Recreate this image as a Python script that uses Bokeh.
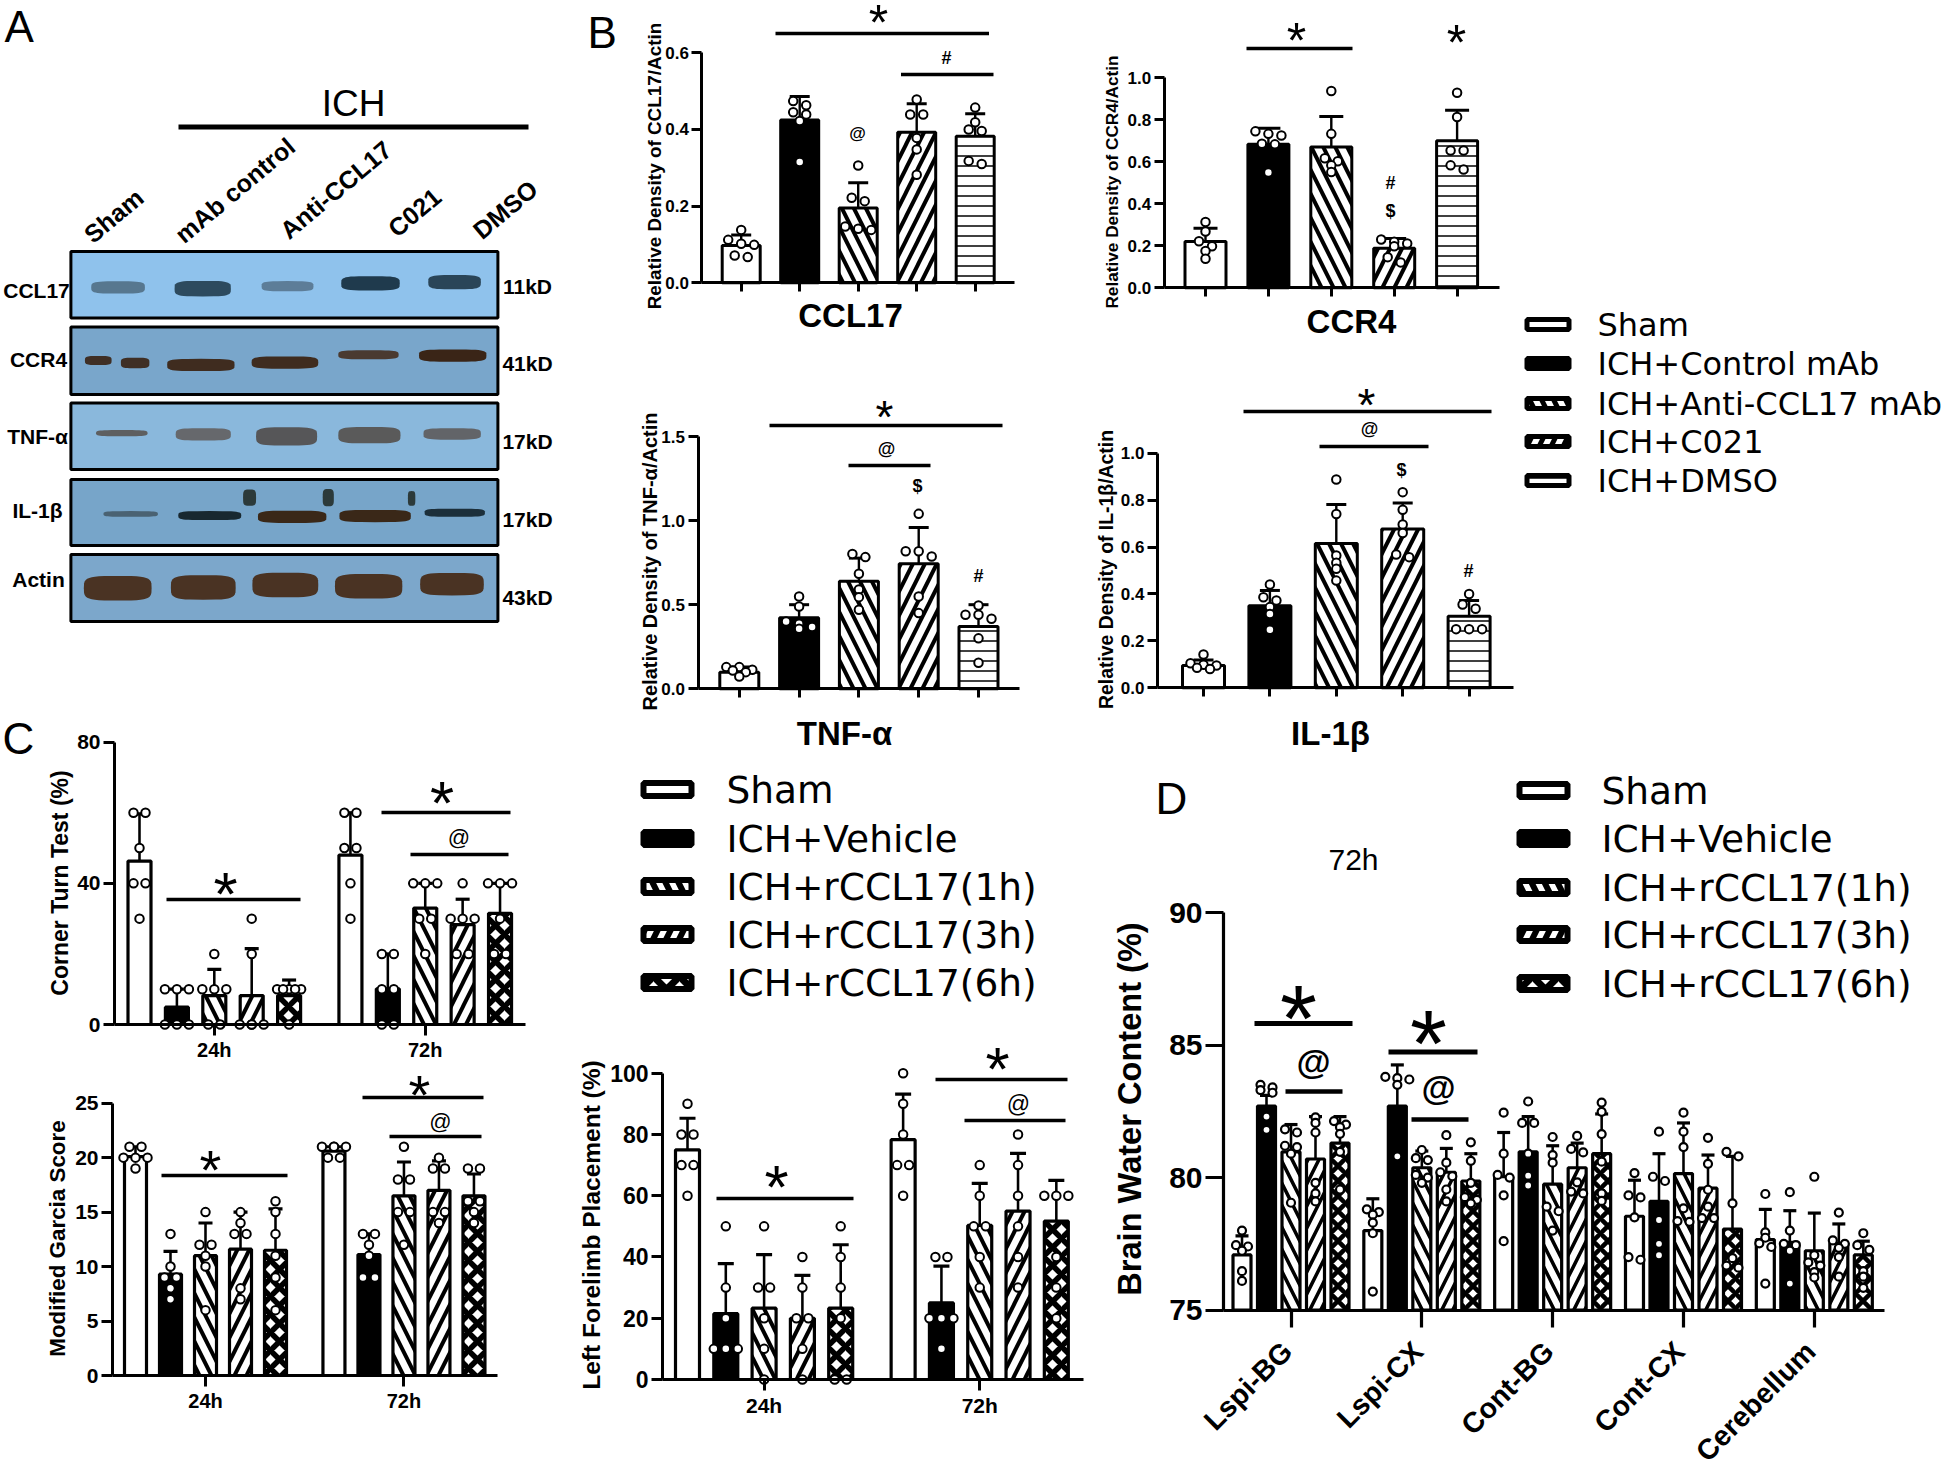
from bokeh.plotting import figure
from bokeh.models import Range1d, FixedTicker, Label, NumeralTickFormatter
from bokeh.layouts import column, row
from bokeh.embed import file_html
from bokeh.resources import INLINE
import math

FONT = "Liberation Sans"

# ---------------- DATA ----------------
groups_b = ["Sham", "ICH+Control mAb", "ICH+Anti-CCL17 mAb", "ICH+C021", "ICH+DMSO"]
groups_c = ["Sham", "ICH+Vehicle", "ICH+rCCL17(1h)", "ICH+rCCL17(3h)", "ICH+rCCL17(6h)"]

ccl17_mean = [0.097, 0.425, 0.195, 0.393, 0.382]
ccl17_err = [0.125, 0.486, 0.261, 0.467, 0.441]
ccl17_pts = [[.138, .112, .099, .102, .071, .067], [.474, .463, .445, .439, .422, .315],
             [.306, .222, .213, .147, .141, .138], [.478, .439, .439, .378, .348, .282],
             [.457, .419, .400, .396, .318, .310]]

ccr4_mean = [0.22, 0.683, 0.67, 0.188, 0.70]
ccr4_err = [0.283, 0.76, 0.816, 0.235, 0.845]
ccr4_pts = [[.313, .268, .222, .198, .175, .138], [.745, .733, .725, .686, .683, .549],
            [.937, .733, .617, .603, .583, .551], [.23, .219, .211, .198, .146, .121],
            [.929, .813, .654, .654, .583, .563]]

tnf_mean = [0.099, 0.422, 0.64, 0.743, 0.37]
tnf_err = [0.13, 0.50, 0.777, 0.959, 0.50]
tnf_pts = [[.129, .129, .113, .109, .099, .073], [.549, .489, .40, .386, .367, .357],
           [.802, .783, .684, .59, .545, .47], [1.04, .818, .818, .787, .549, .45],
           [.495, .44, .44, .416, .30, .155]]

il1b_mean = [0.095, 0.35, 0.615, 0.677, 0.305]
il1b_err = [0.119, 0.415, 0.781, 0.788, 0.372]
il1b_pts = [[.142, .105, .098, .095, .085, .08], [.44, .386, .372, .344, .315, .247],
            [.888, .741, .564, .533, .507, .457], [.834, .759, .696, .66, .568, .557],
            [.40, .355, .337, .25, .25, .25]]

corner_mean = [46.3, 4.9, 8.2, 8.2, 8.2, 48, 10.1, 33, 28.3, 31.5]
corner_err = [59.7, 10, 15.6, 21.5, 12.6, 60, 20, 40, 35.5, 40]
corner_pts = [[60, 60, 50, 40, 40, 30], [10, 10, 10, 0, 0, 0], [20, 10, 10, 10, 0, 0],
              [30, 20, 0, 0, 0, 0], [10, 10, 10, 10, 10, 0],
              [60, 60, 50, 50, 40, 30], [20, 20, 10, 10, 0, 0], [40, 40, 40, 30, 30, 20],
              [40, 30, 30, 30, 20, 20], [40, 40, 40, 30, 20, 20]]

garcia_mean = [20.1, 9.3, 11, 11.6, 11.5, 20.6, 11.1, 16.5, 17, 16.5]
garcia_err = [21, 11.4, 14, 15, 15.3, 21, 13, 19.6, 19.7, 18.5]
garcia_pts = [[21, 21, 20, 20, 20, 19], [13, 10, 9, 9, 8, 7], [15, 12, 12, 11, 10, 6],
              [15, 14, 13, 13, 8, 7], [16, 15, 13, 11, 9, 6],
              [21, 21, 21, 21, 20, 20], [13, 13, 12, 11, 9, 9], [21, 18, 18, 15, 15, 12],
              [20, 19, 19, 15, 15, 14], [19, 19, 16, 16, 15, 14]]

forelimb_mean = [75, 21.5, 23.3, 20, 23.3, 78.3, 25, 50.3, 55, 51.7]
forelimb_err = [85.3, 37.8, 40.8, 34, 44, 93.2, 37, 64, 73.8, 65]
forelimb_pts = [[90, 80, 80, 70, 70, 60], [50, 30, 20, 10, 10, 10], [50, 30, 30, 20, 10, 0],
                [40, 30, 20, 20, 10, 0], [50, 40, 30, 20, 0, 0],
                [100, 90, 80, 70, 70, 60], [40, 40, 20, 20, 20, 10], [70, 60, 50, 50, 40, 30],
                [80, 70, 60, 50, 40, 30], [60, 60, 60, 40, 30, 20]]

water_regions = ["Lspi-BG", "Lspi-CX", "Cont-BG", "Cont-CX", "Cerebellum"]
water_mean = [77.08, 82.7, 80.97, 80.7, 81.3, 78.0, 82.7, 80.37, 80.2, 79.87,
              80.03, 80.97, 79.75, 80.37, 80.9, 78.54, 79.1, 80.15, 79.6, 78.06,
              77.66, 77.56, 77.24, 77.52, 77.08]
water_err = [77.8, 83.1, 82, 82.3, 82.3, 79.2, 84.25, 81, 81.1, 80.9,
             81.7, 82.3, 81.2, 81.3, 82.4, 79.9, 80.9, 82.06, 80.85, 80.8,
             78.8, 78.75, 78.66, 78.25, 77.6]
water_pts = [[78, 77.45, 77.4, 77.24, 76.47, 76.1], [83.5, 83.4, 83.3, 83.2, 82.3, 81.8],
             [81.82, 81.7, 81.2, 81.15, 80.9, 79.05], [82.27, 82.06, 81.7, 79.8, 79.4, 79.1],
             [82.13, 82, 81.9, 81.65, 80.97, 79.55],
             [78.8, 78.7, 78.6, 78.3, 77.9, 75.7], [83.8, 83.75, 83.7, 83.5, 80.8],
             [81.04, 80.73, 80.66, 80.1, 80, 79.8], [81.6, 80.56, 80.2, 80.05, 79.55, 79.1],
             [81.33, 80.63, 79.8, 79.26, 79.16, 79.03],
             [82.45, 80.9, 80.1, 80, 79.33, 77.6], [82.87, 82.06, 82.06, 80.9, 80.07, 79.7],
             [81.53, 80.85, 80.56, 78.9, 78.73, 78], [81.57, 81.08, 80.95, 79.82, 79.47, 79.4],
             [82.83, 82.48, 81.64, 80.6, 79.4, 79.12],
             [80.17, 79.33, 79.25, 78.5, 77, 76.9], [81.73, 80.03, 79.87, 78.4, 77.5, 77.07],
             [82.45, 81.73, 81.15, 78.84, 78.36, 78.33], [81.5, 80.52, 79.54, 78.9, 78.47, 78.47],
             [80.97, 80.8, 79.03, 76.96, 76.68, 76.6],
             [79.38, 77.93, 77.73, 77.52, 77.38, 76], [79.45, 78, 77.5, 77.45, 77.24, 76],
             [80.03, 77.07, 76.8, 76.68, 76.43, 76.23], [78.68, 77.63, 77.5, 77.35, 77, 76.26],
             [77.9, 77.45, 77.27, 76.47, 76.26, 75.84]]

blot_names = ["CCL17", "CCR4", "TNF-\u03b1", "IL-1\u03b2", "Actin"]
blot_sizes = ["11kD", "41kD", "17kD", "17kD", "43kD"]
blot_lanes = ["Sham", "mAb control", "Anti-CCL17", "C021", "DMSO"]

# ---------------- STYLES ----------------
STY = [dict(fill_color="white"),
       dict(fill_color="black"),
       dict(fill_color="white", hatch_pattern="left_diagonal_line", hatch_color="black"),
       dict(fill_color="white", hatch_pattern="right_diagonal_line", hatch_color="black"),
       dict(fill_color="white", hatch_pattern="horizontal_line", hatch_color="black"),
       dict(fill_color="white", hatch_pattern="diagonal_cross", hatch_color="black")]
SERIES_B = [0, 1, 2, 3, 4]
SERIES_C = [0, 1, 2, 3, 5]


class Pane:
    """A figure tiled into the page; positions given in page pixels are turned into data values."""

    def __init__(self, x0, y0, x1, y1, axis_x=None, cx0=0.0, step=1.0, zero=0.0, k=-1.0, ymin=0.0, axes=True):
        self.cx0, self.step, self.zero, self.k, self.ymin = cx0, step, zero, k, ymin
        self.axis_x = x0 if axis_x is None else axis_x
        opts = dict(x_axis_type="linear", y_axis_type="linear") if axes else dict(x_axis_type=None, y_axis_type=None)
        self.p = figure(width=x1 - x0, height=y1 - y0,
                        x_range=Range1d(self.X(x0), self.X(x1)),
                        y_range=Range1d(self.Y(y1), self.Y(y0)),
                        min_border_left=0, min_border_right=0, min_border_top=0, min_border_bottom=0,
                        frame_align=False,
                        output_backend="svg", toolbar_location=None, outline_line_color=None,
                        background_fill_color=None, border_fill_color=None, **opts)
        self.p.grid.visible = False

    def X(self, px):
        return (px - self.cx0) / self.step

    def Y(self, py):
        return self.ymin + (self.zero - py) / self.k

    def text(self, x, y, t, size, bold=False, align="center", base="middle", angle=0, color="black", font=FONT):
        self.p.add_layout(Label(x=self.X(x), y=self.Y(y), text=t, text_font=font,
                                text_font_size=f"{size}px", text_font_style="bold" if bold else "normal",
                                text_align=align, text_baseline=base, angle=angle, angle_units="deg",
                                text_color=color))

    def star(self, x, y, size):
        self.text(x, y + 0.21 * size, "*", size)

    def hline(self, x1, x2, y, lw=3.5):
        self.p.segment(x0=[self.X(x1)], x1=[self.X(x2)], y0=[self.Y(y)], y1=[self.Y(y)],
                       line_color="black", line_width=lw, line_cap="butt")


def swarm(vals, ppu, spacing, thresh, maxrow=3):
    rows = []
    for v in sorted(vals, reverse=True):
        if rows and (rows[-1][0] - v) * ppu < thresh and len(rows[-1]) < maxrow:
            rows[-1].append(v)
        else:
            rows.append([v])
    xs, ys = [], []
    for r in rows:
        for i, v in enumerate(r):
            xs.append((i - (len(r) - 1) / 2) * spacing)
            ys.append(v)
    return xs, ys


def chart(P, xs, means, errs, pts, series, width, lw=3, cap=20, msize=8.5, mlw=2, spacing=13, thresh=7,
          hs=24, hw=4, hh=10, hhw=1.5, hc=18, hcw=5.5):
    p = P.p
    ppu = abs(P.k)
    for i, x in enumerate(xs):
        st = dict(STY[series[i % len(series)]])
        pat = st.get("hatch_pattern")
        if pat == "horizontal_line":
            st.update(hatch_scale=hh, hatch_weight=hhw)
        elif pat == "diagonal_cross":
            st.update(hatch_scale=hc, hatch_weight=hcw)
        elif pat:
            st.update(hatch_scale=hs, hatch_weight=hw)
        p.vbar(x=[x], top=[means[i]], bottom=P.ymin, width=width / P.step, line_color="black", line_width=lw, **st)
        p.segment(x0=[x], x1=[x], y0=[means[i]], y1=[errs[i]], line_color="black", line_width=lw * 0.8)
        p.segment(x0=[x - cap / 2 / P.step], x1=[x + cap / 2 / P.step], y0=[errs[i]], y1=[errs[i]],
                  line_color="black", line_width=lw)
        dx, ys = swarm(pts[i], ppu, spacing, thresh)
        p.scatter(x=[x + d / P.step for d in dx], y=ys, size=msize, marker="circle",
                  fill_color="white", line_color="black", line_width=mlw)


def style_axes(P, yticks, ymax, ylabel, lab_xy, lab_size, tick_size, xticks, xlabels, xend, xtick_size=0,
               tick_out=9, xtick_out=9, lw=3, x_standoff=3, tick_standoff=3, yfmt="0"):
    p = P.p
    y = p.yaxis[0]
    x = p.xaxis[0]
    y.fixed_location = P.X(P.axis_x)
    y.ticker = FixedTicker(ticks=yticks)
    y.formatter = NumeralTickFormatter(format=yfmt)
    y.bounds = (P.ymin, ymax)
    y.major_label_text_font = FONT
    y.major_label_text_font_style = "bold"
    y.major_label_text_font_size = f"{tick_size}px"
    y.major_label_text_color = "black"
    y.major_label_standoff = tick_standoff
    y.major_tick_in = 0
    y.major_tick_out = tick_out
    y.minor_tick_line_color = None
    y.axis_line_width = lw
    y.major_tick_line_width = lw
    y.axis_line_color = "black"
    x.fixed_location = P.ymin
    x.ticker = FixedTicker(ticks=xticks)
    x.bounds = (P.X(P.axis_x), P.X(xend))
    x.major_label_overrides = {t: l for t, l in zip(xticks, xlabels)}
    x.major_label_text_font = FONT
    x.major_label_text_font_style = "bold"
    x.major_label_text_font_size = f"{max(xtick_size, 1)}px"
    x.major_label_text_color = "black"
    x.major_label_standoff = x_standoff
    x.major_tick_in = 0
    x.major_tick_out = xtick_out
    x.minor_tick_line_color = None
    x.axis_line_width = lw
    x.major_tick_line_width = lw
    x.axis_line_color = "black"
    P.text(lab_xy[0], lab_xy[1], ylabel, lab_size, bold=True, angle=90)


def ratio_panel(x0, y0, x1, y1, axis_x, c0, step, zero, top, ymax, yticks, means, errs, pts, width, ylabel, lab_xy,
                lab_size, xend, title, title_xy, cap):
    k = (zero - top) / ymax
    P = Pane(x0, y0, x1, y1, axis_x, c0, step, zero, k)
    xs = list(range(5))
    chart(P, xs, means, errs, pts, SERIES_B, width, lw=3, cap=cap, spacing=13, thresh=6)
    style_axes(P, yticks, ymax, ylabel, lab_xy, lab_size, 17, xs, [" "] * 5, xend, tick_out=10, yfmt="0.0")
    P.text(title_xy[0], title_xy[1], title, 33, bold=True)
    return P


def band(P, x1, x2, yc, h, color, power=4):
    n = 40
    cx, rx, ry = (x1 + x2) / 2, (x2 - x1) / 2, h / 2
    xs, ys = [], []
    for i in range(n):
        t = 2 * math.pi * i / n
        c, s = math.cos(t), math.sin(t)
        xs.append(cx + rx * abs(c) ** (2 / power) * (1 if c >= 0 else -1))
        ys.append(yc + ry * abs(s) ** (2 / power) * (1 if s >= 0 else -1))
    P.p.patch(x=xs, y=ys, fill_color=color, line_color=None)


def legend_items(P, names, series, sx0, sx1, ys, h, tx, size, hs, hw, bw=5):
    for name, s, y in zip(names, series, ys):
        st = dict(STY[s])
        pat = st.get("hatch_pattern")
        if pat == "horizontal_line":
            st.update(hatch_scale=6, hatch_weight=1.5)
        elif pat == "diagonal_cross":
            st.update(hatch_scale=hs, hatch_weight=hw + 1)
        elif pat:
            st.update(hatch_scale=hs, hatch_weight=hw)
        P.p.quad(left=[P.X(sx0 + bw / 2)], right=[P.X(sx1 - bw / 2)],
                 top=[P.Y(y - h / 2 + bw / 2)], bottom=[P.Y(y + h / 2 - bw / 2)],
                 line_color="black", line_width=bw, **st)
        P.text(tx, y, name, size, font="DejaVu Sans", align="left")


# ---------------- PANEL A ----------------
A = Pane(0, 0, 575, 718, axes=False)
A.text(4, 26, "A", 44, align="left")
A.text(353, 103, "ICH", 37)
A.hline(178, 528, 126.5, lw=5)
lane_xy = [(87, 237), (178, 237), (283, 233), (391, 231), (476, 233)]
for (lx, ly), t in zip(lane_xy, blot_lanes):
    A.text(lx, ly, t, 25, bold=True, align="left", base="alphabetic", angle=40)
tops = [251, 326.5, 402.5, 479, 554]
bots = [317.6, 394, 469, 545, 621]
bgs = ["#8fc2ec", "#79a6cb", "#8ab8dc", "#77a5c9", "#7ca7cb"]
A.p.quad(left=70.4, right=497.4, top=tops, bottom=bots, fill_color=bgs, line_color="black", line_width=3)
F = 2.7
G = 2.45
bands = [
    (245, 390, 703, 30, "#57778f"), (470, 622, 706, 38, "#2d4a5e"), (705, 845, 700, 25, "#5d7d98"),
    (920, 1078, 693, 35, "#1f3a4d"), (1155, 1297, 690, 35, "#2a4558"),
    (228, 300, 882, 22, "#3f2f25"), (325, 402, 888, 26, "#3f2f25"), (450, 632, 893, 30, "#3f2c1f"),
    (678, 858, 887, 30, "#3f2c1f"), (912, 1075, 868, 22, "#4a3a30"), (1130, 1312, 870, 30, "#3a2517"),
    (258, 397, 1060, 15, "#5e5f60"), (473, 622, 1063, 30, "#66686c"), (690, 855, 1068, 45, "#565658"),
    (912, 1080, 1065, 40, "#5a5a5a"), (1142, 1297, 1062, 28, "#626468"),
    (278, 425, 1258, 14, "#4a6272"), (480, 650, 1262, 22, "#182830"), (695, 880, 1265, 30, "#3a2818"),
    (915, 1108, 1263, 30, "#3a2818"), (1145, 1308, 1255, 20, "#1c2f3a"),
    (655, 690, 1218, 40, "#2c3a3a"), (870, 900, 1218, 42, "#2c3a3a"), (1100, 1120, 1220, 36, "#2c3a3a"),
    (225, 408, 1440, 60, "#4a3323"), (460, 635, 1438, 60, "#4a3323"), (680, 858, 1432, 60, "#4a3323"),
    (903, 1085, 1435, 60, "#4a3323"), (1133, 1305, 1430, 55, "#4a3323"),
]
for b in bands:
    band(A, b[0] / F, b[1] / F, b[2] / G, b[3] / G, b[4])
for name, y, xx in zip(blot_names, [290, 359, 436, 510, 579], [36, 38, 37, 37, 38]):
    A.text(xx, y, name, 21, bold=True)
for s, y in zip(blot_sizes, [286, 363, 441, 519, 597]):
    A.text(527, y, s, 21, bold=True)

# ---------------- PANEL B ----------------
CCL = ratio_panel(575, 0, 1075, 385, 701.4, 740.7, 58.5, 282.3, 52.3, 0.6, [0, .2, .4, .6],
                  ccl17_mean, ccl17_err, ccl17_pts, 38, "Relative Density of CCL17/Actin", (653.6, 165.5), 18.9, 1014,
                  "CCL17", (850, 315), 20)
CCL.text(587, 32, "B", 44, align="left")
CCL.hline(775, 988.5, 33)
CCL.star(878, 12, 50)
CCL.hline(900.5, 993, 74)
CCL.text(946, 57, "#", 18, bold=True)
CCL.text(857, 133, "@", 17, bold=True)

CCR = ratio_panel(1075, 0, 1515, 385, 1163.7, 1205, 62.9, 287.3, 77.3, 1.0, [0, .2, .4, .6, .8, 1.0],
                  ccr4_mean, ccr4_err, ccr4_pts, 41, "Relative Density of CCR4/Actin", (1111, 181.5), 17.2, 1499,
                  "CCR4", (1351, 321), 24)
CCR.hline(1246, 1352, 48)
CCR.star(1296, 30, 50)
CCR.star(1456, 32, 50)
CCR.text(1390, 182, "#", 18, bold=True)
CCR.text(1390, 210, "$", 18, bold=True)

TNF = ratio_panel(575, 385, 1075, 768, 697.5, 738.8, 59.8, 688.3, 436, 1.5, [0, .5, 1.0, 1.5],
                  tnf_mean, tnf_err, tnf_pts, 39, "Relative Density of TNF-\u03b1/Actin", (649, 561), 20, 1019,
                  "TNF-\u03b1", (844, 733), 20)
TNF.hline(769, 1002, 425)
TNF.star(884, 407, 46)
TNF.hline(848, 930, 465)
TNF.text(886, 448, "@", 18, bold=True)
TNF.text(917, 485, "$", 18, bold=True)
TNF.text(978, 575, "#", 18, bold=True)

IL = ratio_panel(1075, 385, 1515, 768, 1157, 1203, 66.4, 687.3, 452.7, 1.0, [0, .2, .4, .6, .8, 1.0],
                 il1b_mean, il1b_err, il1b_pts, 42, "Relative Density of IL-1\u03b2/Actin", (1105, 569), 19.4, 1512.6,
                 "IL-1\u03b2", (1330, 733), 20)
IL.hline(1243, 1491, 411)
IL.star(1366, 395, 46)
IL.hline(1319, 1428, 446)
IL.text(1369, 428, "@", 18, bold=True)
IL.text(1401, 469, "$", 18, bold=True)
IL.text(1468, 570, "#", 18, bold=True)

LEG1 = Pane(1515, 0, 1946, 768, axes=False)
legend_items(LEG1, groups_b, SERIES_B, 1524, 1571, [324, 363, 403, 441, 480], 15, 1597, 32, 24, 5)


# ---------------- PANEL C ----------------
def behaviour_panel(x0, y0, x1, y1, axis_x, c0, step, gap, zero, top, ymax, yticks, means, errs, pts, width, ylabel,
                    lab_xy, lab_size, tick_size, xend, xlab_size, cap, tick_out=11, xtick_out=11):
    P = Pane(x0, y0, x1, y1, axis_x, c0, step, zero, (zero - top) / ymax)
    xs = [i for i in range(5)] + [gap + i for i in range(5)]
    chart(P, xs, means, errs, pts, SERIES_C, width, lw=3.2, cap=cap, spacing=12, thresh=5)
    style_axes(P, yticks, ymax, ylabel, lab_xy, lab_size, tick_size, [2, gap + 2], ["24h", "72h"], xend,
               xtick_size=xlab_size, tick_out=tick_out, xtick_out=xtick_out, x_standoff=3)
    return P


C1 = behaviour_panel(0, 718, 575, 1062, 114, 139, 37.4, 5.64, 1024, 741.7, 80, [0, 40, 80], corner_mean, corner_err,
                     corner_pts, 23, "Corner Turn Test (%)", (59, 882.5), 23, 21, 525, 20, 14)
C1.text(2, 738, "C", 44, align="left")
C1.hline(166, 300, 899)
C1.star(225, 880, 62)
C1.hline(381, 510, 812)
C1.star(441.5, 789, 62)
C1.hline(410, 508, 854)
C1.text(458.5, 837, "@", 22)

C2 = behaviour_panel(0, 1062, 575, 1466, 112, 135, 35, 5.67, 1375, 1102.7, 25, [0, 5, 10, 15, 20, 25], garcia_mean,
                     garcia_err, garcia_pts, 22, "Modified Garcia Score", (57, 1238), 22.4, 21, 497, 20, 14)
C2.hline(161, 287, 1175)
C2.star(210, 1157, 56)
C2.hline(362, 483, 1097)
C2.star(419, 1082, 56)
C2.hline(389, 481, 1136)
C2.text(440, 1121, "@", 22)

LEG2 = Pane(575, 768, 1090, 1040, axes=False)
legend_items(LEG2, groups_c, SERIES_C, 640, 694, [789, 838, 886, 934, 982], 19, 726, 37.5, 26, 6, bw=6)

C3 = behaviour_panel(575, 1040, 1090, 1466, 662, 687, 38.3, 5.63, 1379, 1072.7, 100, [0, 20, 40, 60, 80, 100],
                     forelimb_mean, forelimb_err, forelimb_pts, 24, "Left Forelimb Placement (%)", (591, 1224.5), 24.5,
                     23, 1083, 21, 16)
C3.hline(716, 853, 1198)
C3.star(776, 1173, 62)
C3.hline(935, 1067, 1079)
C3.star(997, 1055, 62)
C3.hline(964, 1065, 1120)
C3.text(1018, 1103, "@", 23)

# ---------------- PANEL D ----------------
kD = (1309.6 - 912) / 15
D = Pane(1090, 768, 1946, 1466, 1223, 1241.5, 24.5, 1309.6, kD, 75)
xsD = [g * 5.34 + i for g in range(5) for i in range(5)]
chart(D, xsD, water_mean, water_err, water_pts, SERIES_C, 18, lw=3.2, cap=13, msize=8, mlw=2.2, spacing=12, thresh=5,
      hs=22, hw=3.5, hc=15, hcw=4.5)
tick_pos = [g * 5.34 + 2 for g in range(5)]
style_axes(D, [75, 80, 85, 90], 90, "Brain Water Content (%)", (1129, 1108.5), 32.6, 30, tick_pos, [" "] * 5, 1884,
           tick_out=18, xtick_out=17, lw=3.2)
for t, name in zip(tick_pos, water_regions):
    D.text(1241.5 + t * 24.5 - 4, 1346, name, 28.5, bold=True, align="right", angle=45)
D.text(1155, 798, "D", 44, align="left")
D.text(1353, 859, "72h", 30)
legend_items(D, groups_c, SERIES_C, 1516, 1570, [790, 838, 887, 934, 983], 19, 1601, 37.5, 26, 6, bw=6)
D.hline(1254, 1352, 1023, lw=5)
D.star(1298, 998, 95)
D.hline(1285, 1342, 1091, lw=4.5)
D.text(1313, 1061, "@", 35, bold=True)
D.hline(1388, 1477, 1051.5, lw=5)
D.star(1428, 1022.6, 95)
D.hline(1411, 1468, 1119, lw=4.5)
D.text(1438, 1087, "@", 35, bold=True)

# ---------------- PAGE ----------------
col1 = column(A.p, C1.p, C2.p, spacing=0)
b_block = row(column(CCL.p, TNF.p, spacing=0), column(CCR.p, IL.p, spacing=0), LEG1.p, spacing=0)
bottom = row(column(LEG2.p, C3.p, spacing=0), D.p, spacing=0)
col2 = column(b_block, bottom, spacing=0)
root = row(col1, col2, spacing=0, styles={"position": "absolute", "left": "0px", "top": "0px"})

open("out.html", "w").write(file_html(root, INLINE))
